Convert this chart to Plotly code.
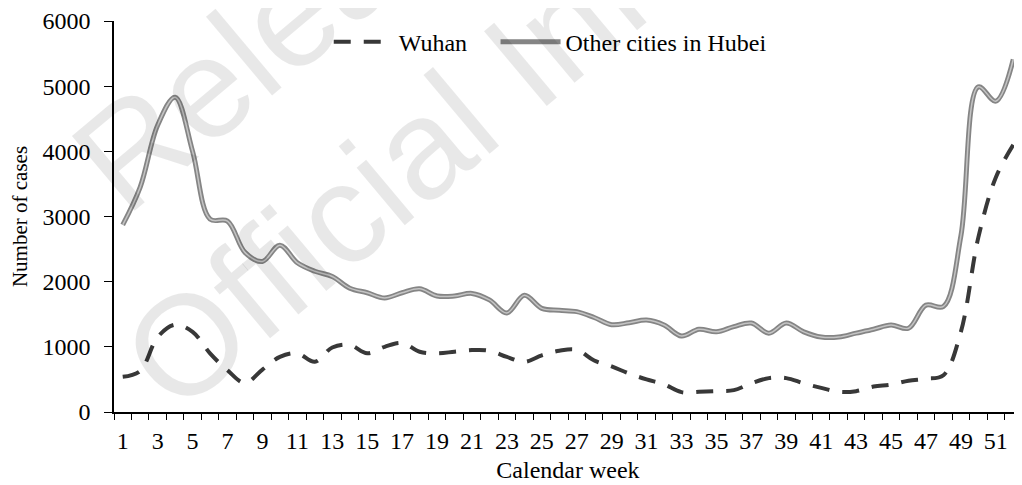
import plotly.graph_objects as go

weeks = list(range(1, 53))
tick_weeks = [w for w in weeks if w % 2 == 1]
tick_labels = [str(w) for w in tick_weeks]

wuhan = [540, 630, 1150, 1340, 1230, 900, 640, 445, 650, 845,
         900, 770, 990, 1030, 900, 1000, 1060, 925, 900, 925,
         950, 940, 845, 770, 870, 940, 955, 790, 700, 590,
         500, 425, 305, 310, 320, 335, 440, 520, 520, 440,
         370, 310, 320, 390, 420, 480, 510, 565, 1230, 2680,
         3600, 4100]

other_hubei = [2870, 3450, 4400, 4830, 4000, 2960, 2930, 2450, 2310, 2560,
               2290, 2160, 2080, 1900, 1830, 1750, 1830, 1890, 1780, 1780,
               1820, 1720, 1520, 1790, 1590, 1560, 1540, 1450, 1340, 1370,
               1410, 1335, 1165, 1270, 1230, 1310, 1365, 1210, 1365, 1230,
               1150, 1150, 1210, 1270, 1335, 1285, 1640, 1620, 2700, 4990,
               4770, 5410]

y_ticks = [0, 1000, 2000, 3000, 4000, 5000, 6000]
boundaries = [w - 0.5 for w in weeks] + [weeks[-1] + 0.5]

SERIF = "Liberation Serif"

fig = go.Figure()
fig.add_trace(go.Scatter(
    x=weeks, y=wuhan, name="Wuhan", mode="lines", legend="legend",
    line=dict(color="#383838", width=4, dash="17px,13px", shape="spline", smoothing=1),
))
fig.add_trace(go.Scatter(
    x=weeks, y=other_hubei, name="Other cities in Hubei", mode="lines", legend="legend2",
    line=dict(color="#858585", width=5, shape="spline", smoothing=1),
))
fig.add_trace(go.Scatter(
    x=weeks, y=other_hubei, mode="lines", showlegend=False, hoverinfo="skip",
    line=dict(color="#c4c4c4", width=1.5, shape="spline", smoothing=1),
))

legend_common = dict(
    orientation="h", xanchor="left", y=0.946, yanchor="middle",
    font=dict(family=SERIF, size=24, color="black"),
    bgcolor="rgba(0,0,0,0)", itemwidth=60,
)

# page body has an 8px default margin: size the figure so the plot area lands
# on the reference's pixels (x 114..1022, y 21..412)
fig.update_layout(
    width=1014, height=477,
    margin=dict(l=106, r=0, t=13, b=73),
    paper_bgcolor="white", plot_bgcolor="white",
    font=dict(family=SERIF, color="black", size=24),
    showlegend=True,
    legend=dict(x=0.2365, **legend_common),
    legend2=dict(x=0.4202, **legend_common),
    xaxis=dict(
        range=[0.5, 52.5], tickmode="array", tickvals=tick_weeks, ticktext=tick_labels,
        ticks="", showline=True, linecolor="black", linewidth=1.5,
        showgrid=False, zeroline=False, ticklabelstandoff=6, automargin=False,
        tickfont=dict(family=SERIF, size=24),
        minor=dict(tickmode="array", tickvals=boundaries, ticks="outside",
                   ticklen=6, tickwidth=1.2, tickcolor="black", showgrid=False),
        title=dict(text="Calendar week", font=dict(family=SERIF, size=24), standoff=9),
    ),
    yaxis=dict(
        range=[0, 6000], tickmode="array", tickvals=y_ticks,
        ticks="outside", ticklen=8, tickwidth=1.2, tickcolor="black",
        showline=True, linecolor="black", linewidth=1.5,
        showgrid=False, zeroline=False, ticklabelstandoff=9, automargin=False,
        tickfont=dict(family=SERIF, size=24),
        title=dict(text="Number of cases", font=dict(family=SERIF, size=21), standoff=10),
    ),
)

fig.add_annotation(
    text="Released under the<br>Official Information Act",
    xref="paper", yref="paper", x=0.566, y=1.43,
    xanchor="center", yanchor="middle", showarrow=False, textangle=-40,
    font=dict(family="Liberation Sans", size=142, color="rgba(0,0,0,0.09)"),
)

fig.write_html("out.html")
